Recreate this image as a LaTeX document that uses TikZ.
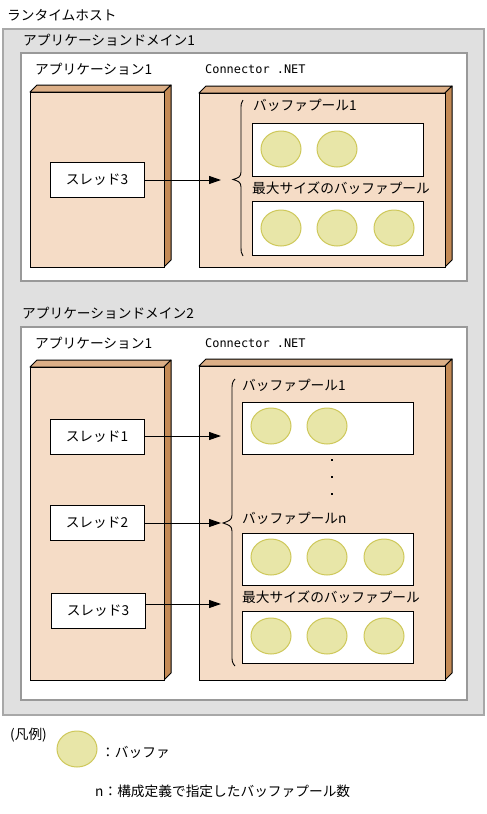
\documentclass[tikz,border=0pt]{standalone}
\usepackage{fontspec}
\setmainfont{Noto Sans CJK JP}
\newfontfamily\monofont{DejaVu Sans Mono}
\usetikzlibrary{arrows.meta,shapes.geometric}
\definecolor{gbg}{HTML}{E0E0E0}
\definecolor{gbd}{HTML}{A8A8A8}
\definecolor{wbd}{HTML}{999999}
\definecolor{frontc}{HTML}{F5DCC6}
\definecolor{topc}{HTML}{DCAF87}
\definecolor{sidec}{HTML}{C48A55}
\definecolor{bufc}{HTML}{E8E6A8}
\definecolor{bufd}{HTML}{CEC85A}
\newcommand\cubebox[4]{%
  \filldraw[fill=topc,line width=1pt,line join=round] (#1,#2) -- ({#1+7},{#2-7}) -- ({#3+7},{#2-7}) -- (#3,#2) -- cycle;
  \filldraw[fill=sidec,line width=1pt,line join=round] (#3,#2) -- ({#3+7},{#2-7}) -- ({#3+7},{#4-7}) -- (#3,#4) -- cycle;
  \filldraw[fill=frontc,line width=1pt] (#1,#2) rectangle (#3,#4);
}
\tikzset{
  lbl/.style={anchor=west,inner sep=0pt,font=\fontsize{13.7}{16}\selectfont},
  mono/.style={anchor=west,inner sep=0pt,font=\monofont\fontsize{11.9}{14}\selectfont},
  thread/.style={draw,fill=white,line width=1pt,minimum width=94pt,minimum height=35pt,inner sep=0pt,font=\fontsize{13.7}{16}\selectfont},
  pool/.style={draw,fill=white,line width=1pt},
  buf/.style={ellipse,draw=bufd,fill=bufc,line width=1pt,minimum width=40pt,minimum height=36pt,inner sep=0pt},
  conn/.style={line width=1pt,-{Triangle[length=12pt,width=8pt]}},
  brace/.style={line width=0.9pt},
  dot/.style={fill=black,minimum size=2.5pt,inner sep=0pt,rectangle}
}
\begin{document}
\begin{tikzpicture}[x=1pt,y=-1pt]
\useasboundingbox (0,0) rectangle (487,814);
\fill[white] (0,0) rectangle (487,814);
% title
\node[lbl] (title) at (7,15) {ランタイムホスト};
\filldraw[draw=gbd,fill=gbg,line width=1.5pt] (3,29) rectangle (484,715);
% ===== domain 1 =====
\node[lbl] (d1) at (23,40) {アプリケーションドメイン1};
\filldraw[draw=wbd,fill=white,line width=1.5pt] (21,53) rectangle (467,281);
\node[lbl] (app1) at (35,69) {アプリケーション1};
\node[mono] (cn1) at (205,69) {Connector .NET};
\cubebox{30}{92}{164}{267}
\cubebox{199}{93}{445}{267}
\node[thread] (d1t3) at (97,180) {スレッド3};
\coordinate (d1a) at (221,180);
\draw[conn] (d1t3.east) -- (d1a);
\draw[brace] (243,100) .. controls (241,102) and (241,105) .. (241,110) -- (241,172)
  .. controls (241,177) and (238,178) .. (233,179.5) .. controls (238,181) and (241,182) .. (241,187)
  -- (241,248) .. controls (241,251) and (241,253) .. (243,256);
\node[lbl] (d1p1) at (253,105) {バッファプール1};
\draw[pool] (252,123) rectangle (423,176);
\node[buf] (d1b1) at (281,149) {};
\node[buf] (d1b2) at (337,149) {};
\node[lbl] (d1pm) at (252,188) {最大サイズのバッファプール};
\draw[pool] (252,201) rectangle (423,255);
\node[buf] (d1b3) at (281,228) {};
\node[buf] (d1b4) at (337,228) {};
\node[buf] (d1b5) at (394,228) {};
% ===== domain 2 =====
\node[lbl] (d2) at (22,313) {アプリケーションドメイン2};
\filldraw[draw=wbd,fill=white,line width=1.5pt] (21,327) rectangle (467,700);
\node[lbl] (app2) at (35,343) {アプリケーション1};
\node[mono] (cn2) at (205,343) {Connector .NET};
\cubebox{30}{367}{164}{680}
\cubebox{199}{366}{445}{680}
\node[thread] (d2t1) at (97,437) {スレッド1};
\node[thread] (d2t2) at (97,523) {スレッド2};
\node[thread] (d2t3) at (98,611) {スレッド3};
\coordinate (d2a1) at (221,436);
\coordinate (d2a2) at (221,523);
\coordinate (d2a3) at (221,604);
\draw[conn] (d2t1.east |- d2a1) -- (d2a1);
\draw[conn] (d2t2.east |- d2a2) -- (d2a2);
\draw[conn] (d2t3.east |- d2a3) -- (d2a3);
\draw[brace] (235,379) .. controls (232,382) and (232,385) .. (232,390) -- (232,515)
  .. controls (232,520) and (229,521) .. (223,523) .. controls (229,525) and (232,526) .. (232,531)
  -- (232,656) .. controls (232,660) and (232,663) .. (235,666);
\node[lbl] (d2p1) at (242,385) {バッファプール1};
\draw[pool] (242,402) rectangle (413,454);
\node[buf] (d2b1) at (271,426) {};
\node[buf] (d2b2) at (327,426) {};
\node[dot] (dt1) at (332,460) {};
\node[dot] (dt2) at (332,477) {};
\node[dot] (dt3) at (332,494) {};
\node[lbl] (d2pn) at (242,518) {バッファプールn};
\draw[pool] (242,533) rectangle (413,585);
\node[buf] (d2b3) at (271,557) {};
\node[buf] (d2b4) at (327,557) {};
\node[buf] (d2b5) at (384,557) {};
\node[lbl] (d2pm) at (242,597) {最大サイズのバッファプール};
\draw[pool] (242,611) rectangle (413,663);
\node[buf] (d2b6) at (271,636) {};
\node[buf] (d2b7) at (327,636) {};
\node[buf] (d2b8) at (384,636) {};
% ===== legend =====
\node[lbl] (leg) at (10,735) {(凡例)};
\node[buf] (legb) at (77,749) {};
\node[lbl] (legt) at (101,752) {：バッファ};
\node[lbl] (legn) at (95,791) {n：構成定義で指定したバッファプール数};
\end{tikzpicture}
\end{document}
